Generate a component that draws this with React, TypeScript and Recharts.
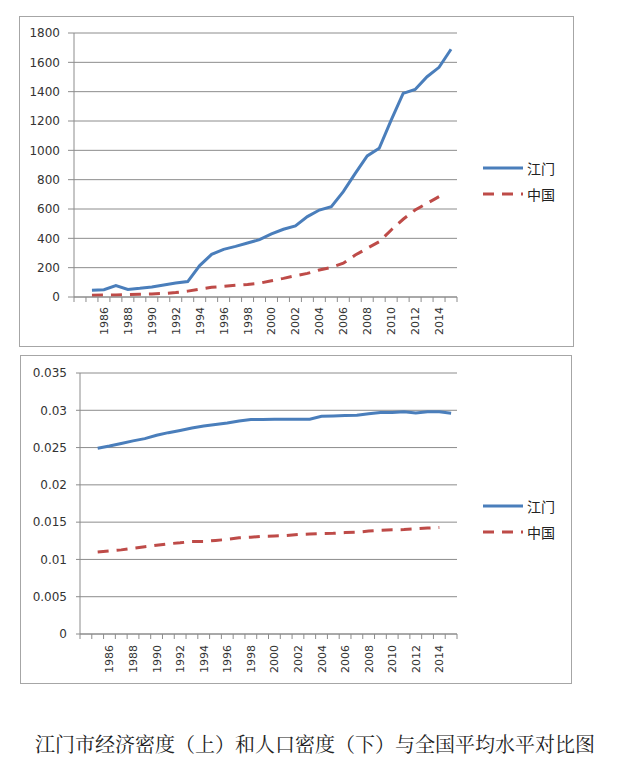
import { LineChart, Line, XAxis, YAxis, CartesianGrid } from "recharts";

// 1984 is an empty leading category, as in the original sheet
const years = [
  "1984", "1985", "1986", "1987", "1988", "1989", "1990", "1991", "1992", "1993", "1994",
  "1995", "1996", "1997", "1998", "1999", "2000", "2001", "2002", "2003", "2004",
  "2005", "2006", "2007", "2008", "2009", "2010", "2011", "2012", "2013", "2014", "2015",
];

// economic density (top)
const econJiangmen = [
  null, 46, 50, 78, 52, 59, 68, 82, 95, 105, 214,
  291, 325, 345, 368, 391, 430, 462, 485, 548, 593,
  616, 718, 843, 962, 1014, 1206, 1388, 1415, 1502, 1566, 1689,
];
const econChina = [
  null, 12, 13, 14, 16, 19, 21, 24, 30, 40, 54,
  66, 73, 80, 86, 94, 111, 127, 145, 161, 184,
  202, 230, 286, 332, 377, 457, 530, 593, 639, 684, null,
];

// population density (bottom)
const popJiangmen = [
  null, 0.0249, 0.0252, 0.02555, 0.0259, 0.0262, 0.02665, 0.027, 0.0273, 0.02763, 0.0279,
  0.0281, 0.0283, 0.02857, 0.02875, 0.02875, 0.0288, 0.0288, 0.0288, 0.0288, 0.0292,
  0.02925, 0.0293, 0.02935, 0.02955, 0.0297, 0.0297, 0.0298, 0.02965, 0.0298, 0.0298, 0.0296,
];
const popChina = [
  null, 0.011, 0.01115, 0.01128, 0.0115, 0.0117, 0.0119, 0.0121, 0.01223, 0.0124, 0.0124,
  0.01255, 0.01268, 0.0129, 0.01297, 0.0131, 0.01314, 0.0132, 0.01333, 0.0134, 0.01347,
  0.0135, 0.0136, 0.01365, 0.0138, 0.0139, 0.01397, 0.014, 0.0141, 0.0142, 0.01428, null,
];

const econTicks = [0, 200, 400, 600, 800, 1000, 1200, 1400, 1600, 1800];
const popTicks = [0, 0.005, 0.01, 0.015, 0.02, 0.025, 0.03, 0.035];
const seriesNames = ["江门", "中国"];

const BLUE = "#4a7ebb";
const RED = "#be4b48";
const GRID = "#8c8c8c";

const econData = years.map((y, i) => ({ year: y, jm: econJiangmen[i], cn: econChina[i] }));
const popData = years.map((y, i) => ({ year: y, jm: popJiangmen[i], cn: popChina[i] }));

const showLabel = (y: string) => Number(y) >= 1986 && Number(y) % 2 === 0;

function YearTick(props: any) {
  const { x, y, payload, index, bw, gap } = props;
  const left = x - bw / 2;
  return (
    <g>
      <line x1={left} x2={left} y1={y} y2={y + 5} stroke={GRID} />
      {index === years.length - 1 && (
        <line x1={x + bw / 2} x2={x + bw / 2} y1={y} y2={y + 5} stroke={GRID} />
      )}
      {showLabel(payload.value) && (
        <text
          transform={`translate(${x + 4},${y + gap}) rotate(-90)`}
          textAnchor="end"
          fontSize={11}
          fontFamily="DejaVu Sans, sans-serif"
          fill="#333"
        >
          {payload.value}
        </text>
      )}
    </g>
  );
}

function LegendBox({ top }: { top: number }) {
  return (
    <div style={{ position: "absolute", left: 483, top: top, fontFamily: "Noto Sans CJK SC", fontSize: 14, color: "#222" }}>
      {seriesNames.map((name, i) => (
        <div key={name} style={{ display: "flex", alignItems: "center", height: 26 }}>
          <svg width={40} height={6} style={{ marginRight: 4 }}>
            <line
              x1={0}
              x2={40}
              y1={3}
              y2={3}
              stroke={i === 0 ? BLUE : RED}
              strokeWidth={3}
              strokeDasharray={i === 0 ? undefined : "11 8"}
            />
          </svg>
          <span>{name}</span>
        </div>
      ))}
    </div>
  );
}

export default function App() {
  const topBw = 383 / years.length;
  const botBw = 377 / years.length;
  return (
    <div style={{ position: "absolute", left: 0, top: 0, width: 630, height: 764, background: "#fff" }}>
      {/* economic density */}
      <div style={{ position: "absolute", left: 19, top: 16, width: 553, height: 329, border: "1px solid #a6a6a6" }}>
        <LineChart width={553} height={329} data={econData} margin={{ top: 16, right: 116, left: 0, bottom: 0 }}>
          <CartesianGrid vertical={false} stroke={GRID} />
          <XAxis
            dataKey="year"
            scale="band"
            interval={0}
            height={49}
            stroke={GRID}
            tickLine={false}
            tickSize={0}
            tickMargin={0}
            tick={<YearTick bw={topBw} gap={10} />}
          />
          <YAxis
            domain={[0, 1800]}
            ticks={econTicks}
            width={54}
            stroke={GRID}
            tickSize={6}
            tickMargin={8}
            tick={{ fontSize: 12, fill: "#333", fontFamily: "DejaVu Sans, sans-serif" }}
          />
          <Line dataKey="jm" stroke={BLUE} strokeWidth={3} dot={false} isAnimationActive={false} />
          <Line dataKey="cn" stroke={RED} strokeWidth={3} strokeDasharray="11 8" dot={false} isAnimationActive={false} />
        </LineChart>
      </div>
      <LegendBox top={155} />

      {/* population density */}
      <div style={{ position: "absolute", left: 20, top: 355, width: 550, height: 327, border: "1px solid #a6a6a6" }}>
        <LineChart width={550} height={327} data={popData} margin={{ top: 17, right: 114, left: 0, bottom: 0 }}>
          <CartesianGrid vertical={false} stroke={GRID} />
          <XAxis
            dataKey="year"
            scale="band"
            interval={0}
            height={49}
            stroke={GRID}
            tickLine={false}
            tickSize={0}
            tickMargin={0}
            tick={<YearTick bw={botBw} gap={11} />}
          />
          <YAxis
            domain={[0, 0.035]}
            ticks={popTicks}
            width={59}
            stroke={GRID}
            tickSize={4}
            tickMargin={9}
            tick={{ fontSize: 12, fill: "#333", fontFamily: "DejaVu Sans, sans-serif" }}
          />
          <Line dataKey="jm" stroke={BLUE} strokeWidth={3} dot={false} isAnimationActive={false} />
          <Line dataKey="cn" stroke={RED} strokeWidth={3} strokeDasharray="11 8" dot={false} isAnimationActive={false} />
        </LineChart>
      </div>
      <LegendBox top={493} />

      <div
        style={{
          position: "absolute",
          left: 0,
          top: 729,
          width: 630,
          textAlign: "center",
          fontFamily: "'Noto Serif CJK SC', 'Noto Sans CJK SC', serif",
          fontSize: 20,
          color: "#222",
        }}
      >
        江门市经济密度（上）和人口密度（下）与全国平均水平对比图
      </div>
    </div>
  );
}
